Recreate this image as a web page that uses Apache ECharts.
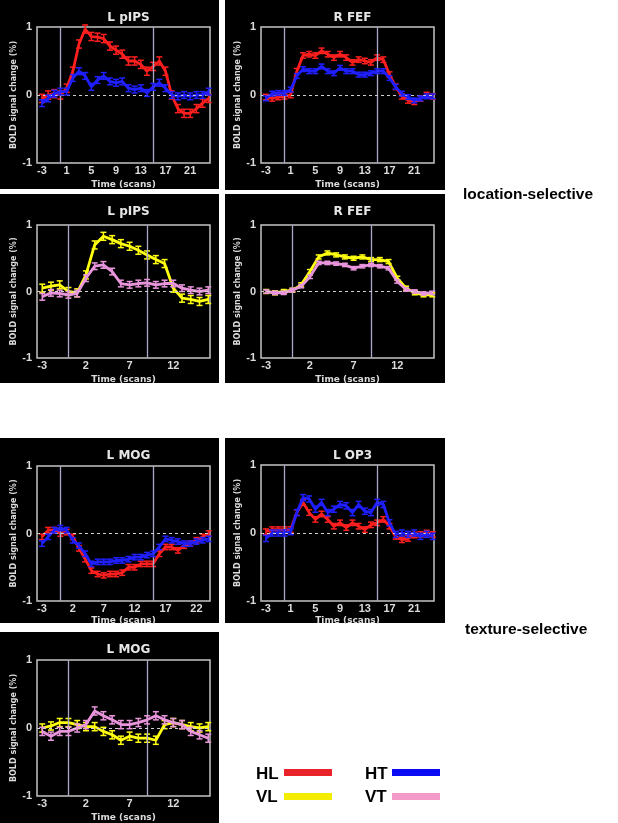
<!DOCTYPE html>
<html><head><meta charset="utf-8">
<script src="https://cdn.jsdelivr.net/npm/echarts@6/dist/echarts.min.js"></script>
<style>html,body{margin:0;padding:0;background:#fff}#c{width:618px;height:823px}</style>
</head><body><div id="c"></div>
<script>
// ---------- data ----------
const scansLong = [-3,-2,-1,0,1,2,3,4,5,6,7,8,9,10,11,12,13,14,15,16,17,18,19,20,21,22,23,24];
const scansShort = [-3,-2,-1,0,1,2,3,4,5,6,7,8,9,10,11,12,13,14,15,16];
const ticksLong = [-3,1,5,9,13,17,21];
const ticksShort = [-3,2,7,12];
const ticksMOG = [-3,2,7,12,17,22];
const yTicks = [-1,0,1];
const blockLong = [0,15];
const blockShort = [0,9];

// Panel 1: L pIPS (location-selective, horizontal)
const pIPS_HL = [-0.05,0.0,0.02,0.0,0.1,0.35,0.75,0.97,0.86,0.85,0.83,0.72,0.66,0.6,0.5,0.5,0.45,0.35,0.42,0.5,0.35,0.0,-0.2,-0.27,-0.27,-0.2,-0.12,-0.05];
const pIPS_HT = [-0.12,-0.05,0.02,0.05,0.05,0.25,0.35,0.28,0.12,0.22,0.28,0.2,0.18,0.2,0.1,0.08,0.1,0.03,0.12,0.18,0.1,0.0,-0.02,0.0,-0.02,0.0,0.0,0.05];
// Panel 2: R FEF
const FEF_HL = [-0.03,-0.05,-0.03,-0.02,0.0,0.35,0.58,0.6,0.58,0.65,0.6,0.55,0.6,0.55,0.48,0.52,0.5,0.48,0.55,0.52,0.3,0.12,-0.02,-0.08,-0.1,-0.05,0.0,-0.02];
const FEF_HT = [-0.05,0.02,0.03,0.03,0.08,0.28,0.38,0.35,0.35,0.42,0.35,0.32,0.4,0.35,0.35,0.3,0.3,0.32,0.35,0.35,0.25,0.12,0.02,-0.03,-0.08,-0.05,-0.02,-0.02];
// Panel 3: L pIPS (vertical)
const pIPS_VL = [0.05,0.08,0.1,0.0,-0.02,0.25,0.7,0.83,0.78,0.72,0.68,0.62,0.55,0.48,0.42,0.05,-0.1,-0.12,-0.15,-0.12];
const pIPS_VT = [-0.08,-0.02,-0.03,-0.05,-0.03,0.2,0.38,0.4,0.3,0.12,0.1,0.12,0.13,0.1,0.12,0.12,0.05,0.02,0.0,0.02];
// Panel 4: R FEF (vertical)
const FEF_VL = [0.0,-0.02,0.0,0.02,0.1,0.3,0.52,0.58,0.55,0.52,0.5,0.52,0.48,0.48,0.45,0.2,0.05,-0.02,-0.05,-0.05];
const FEF_VT = [0.0,-0.02,-0.02,0.02,0.08,0.22,0.43,0.43,0.42,0.4,0.35,0.38,0.4,0.38,0.35,0.15,0.03,0.0,-0.03,-0.02];
// Panel 5: L MOG (texture-selective, horizontal)
const MOG_HL = [-0.05,0.05,0.05,0.0,0.02,-0.05,-0.22,-0.38,-0.55,-0.6,-0.62,-0.6,-0.6,-0.58,-0.5,-0.5,-0.45,-0.45,-0.45,-0.3,-0.2,-0.2,-0.25,-0.18,-0.15,-0.1,-0.05,0.0];
const MOG_HT = [-0.15,-0.05,0.05,0.08,0.05,-0.1,-0.18,-0.3,-0.45,-0.42,-0.42,-0.42,-0.4,-0.4,-0.38,-0.35,-0.35,-0.32,-0.3,-0.2,-0.08,-0.1,-0.12,-0.15,-0.15,-0.12,-0.1,-0.08];
// Panel 6: L OP3
const OP3_HL = [0.02,0.05,0.05,0.05,0.05,0.3,0.45,0.3,0.2,0.28,0.2,0.1,0.15,0.08,0.15,0.1,0.05,0.12,0.15,0.2,0.1,-0.05,-0.1,-0.08,-0.03,-0.02,0.0,-0.02];
const OP3_HT = [-0.08,0.0,0.0,0.0,0.02,0.3,0.52,0.5,0.35,0.45,0.3,0.35,0.42,0.4,0.3,0.42,0.32,0.3,0.45,0.42,0.15,-0.02,0.0,-0.02,0.0,-0.05,-0.02,-0.05];
// Panel 7: L MOG (vertical)
const MOG_VL = [0.0,0.03,0.08,0.08,0.05,0.02,0.02,-0.05,-0.1,-0.18,-0.12,-0.15,-0.15,-0.18,0.05,0.08,0.05,0.02,0.0,0.02];
const MOG_VT = [-0.05,-0.12,-0.05,-0.05,0.0,0.05,0.25,0.18,0.12,0.05,0.05,0.08,0.12,0.18,0.12,0.08,0.05,-0.05,-0.1,-0.15];
// estimated error-bar half-lengths (SEM) per series
const err = {pIPS_HL:0.06,pIPS_HT:0.05,FEF_HL:0.04,FEF_HT:0.035,pIPS_VL:0.06,pIPS_VT:0.05,FEF_VL:0.03,FEF_VT:0.025,MOG_HL:0.04,MOG_HT:0.04,OP3_HL:0.04,OP3_HT:0.045,MOG_VL:0.06,MOG_VT:0.06};

const titles = ['L pIPS','R FEF','L pIPS','R FEF','L MOG','L OP3','L MOG'];
const legendNames = ['HL','HT','VL','VT'];

// ---------- styles / layout ----------
const COL = {HL:'#ff1f1f', HT:'#1f1fff', VL:'#ffff10', VT:'#e995dc'};
const LEGCOL = {HL:'#e8232a', HT:'#0a0af5', VL:'#f5ed00', VT:'#f39ac8'};
const FONT = 'DejaVu Sans';

const panels = [
  {bg:[0,0,219,189], grid:[37,27,173,136], gap:17, xs:scansLong, ticks:ticksLong, range:[-3.8,24.2], block:blockLong,
   series:[['HL',pIPS_HL,err.pIPS_HL],['HT',pIPS_HT,err.pIPS_HT]]},
  {bg:[225,0,220,190], grid:[261,27,173,136], gap:17, xs:scansLong, ticks:ticksLong, range:[-3.8,24.2], block:blockLong,
   series:[['HL',FEF_HL,err.FEF_HL],['HT',FEF_HT,err.FEF_HT]]},
  {bg:[0,194,219,189], grid:[37,225,173,133], gap:17, xs:scansShort, ticks:ticksShort, range:[-3.6,16.2], block:blockShort,
   series:[['VL',pIPS_VL,err.pIPS_VL],['VT',pIPS_VT,err.pIPS_VT]]},
  {bg:[225,194,220,189], grid:[261,225,173,133], gap:17, xs:scansShort, ticks:ticksShort, range:[-3.6,16.2], block:blockShort,
   series:[['VL',FEF_VL,err.FEF_VL],['VT',FEF_VT,err.FEF_VT]]},
  {bg:[0,438,219,185], grid:[37,466,173,135], gap:15, xs:scansLong, ticks:ticksMOG, range:[-3.8,24.2], block:blockLong,
   series:[['HL',MOG_HL,err.MOG_HL],['HT',MOG_HT,err.MOG_HT]]},
  {bg:[225,438,220,185], grid:[261,465,173,136], gap:15, xs:scansLong, ticks:ticksLong, range:[-3.8,24.2], block:blockLong,
   series:[['HL',OP3_HL,err.OP3_HL],['HT',OP3_HT,err.OP3_HT]]},
  {bg:[0,632,219,191], grid:[37,660,173,136], gap:17, xs:scansShort, ticks:ticksShort, range:[-3.6,16.2], block:blockShort,
   series:[['VL',MOG_VL,err.MOG_VL],['VT',MOG_VT,err.MOG_VT]]}
];

function errRender(params, api){
  const x = api.value(0), y = api.value(1), e = api.value(2);
  const hi = api.coord([x, y+e]), lo = api.coord([x, y-e]);
  const w = 3;
  const style = {stroke: api.visual('color'), lineWidth: 1.5};
  return {type:'group', children:[
    {type:'line', shape:{x1:hi[0],y1:hi[1],x2:lo[0],y2:lo[1]}, style:style},
    {type:'line', shape:{x1:hi[0]-w,y1:hi[1],x2:hi[0]+w,y2:hi[1]}, style:style},
    {type:'line', shape:{x1:lo[0]-w,y1:lo[1],x2:lo[0]+w,y2:lo[1]}, style:style}
  ]};
}

const option = {backgroundColor:'#ffffff', animation:false, title:[], grid:[], xAxis:[], yAxis:[], series:[], graphic:[]};
const labelColor = '#dcdcdc';

panels.forEach((p,i)=>{
  option.graphic.push({type:'rect', z:-10, shape:{x:p.bg[0],y:p.bg[1],width:p.bg[2],height:p.bg[3]}, style:{fill:'#000000'}});
  option.title.push({text:titles[i], left:p.grid[0]+p.grid[2]/2, top:p.bg[1]+7, textAlign:'center',
    textStyle:{color:'#e6e6e6', fontFamily:FONT, fontWeight:'bold', fontSize:12}});
  option.grid.push({left:p.grid[0], top:p.grid[1], width:p.grid[2], height:p.grid[3], show:true,
    borderColor:'#c4c4c4', borderWidth:1.5, backgroundColor:'transparent'});
  option.xAxis.push({type:'value', gridIndex:i, min:p.range[0], max:p.range[1],
    name:'Time (scans)', nameLocation:'middle', nameGap:p.gap,
    nameTextStyle:{color:labelColor, fontFamily:FONT, fontWeight:'bold', fontSize:9},
    axisLine:{show:false}, splitLine:{show:false},
    axisTick:{show:false, customValues:p.ticks},
    axisLabel:{customValues:p.ticks, color:labelColor, fontFamily:'Liberation Sans', fontWeight:'bold', fontSize:11, margin:2}});
  option.yAxis.push({type:'value', gridIndex:i, min:-1, max:1, interval:1,
    name:'BOLD signal change (%)', nameLocation:'middle', nameGap:19,
    nameTextStyle:{color:labelColor, fontFamily:FONT, fontWeight:'bold', fontSize:8},
    axisLine:{show:false}, splitLine:{show:false}, axisTick:{show:false},
    axisLabel:{color:labelColor, fontFamily:'Liberation Sans', fontWeight:'bold', fontSize:11, margin:5}});
  // reference lines (stimulus block and baseline)
  option.series.push({type:'line', xAxisIndex:i, yAxisIndex:i, data:[], z:1, silent:true,
    markLine:{silent:true, symbol:'none', label:{show:false}, animation:false,
      data:[
        {xAxis:p.block[0], lineStyle:{color:'#a8a8c8', width:1.3, type:'solid'}},
        {xAxis:p.block[1], lineStyle:{color:'#a8a8c8', width:1.3, type:'solid'}},
        {yAxis:0, lineStyle:{color:'#d0d0d0', width:1, type:[3,3]}}
      ]}});
  p.series.forEach((s,k)=>{
    const name=s[0], vals=s[1], e=s[2];
    const pts = p.xs.map((x,j)=>[x, vals[j]]);
    option.series.push({type:'line', name:name, xAxisIndex:i, yAxisIndex:i, data:pts, showSymbol:false,
      z:2+k*2, lineStyle:{color:COL[name], width:2.8}, itemStyle:{color:COL[name]}});
    option.series.push({type:'custom', name:name+'_err', xAxisIndex:i, yAxisIndex:i, z:3+k*2,
      renderItem:errRender, encode:{x:0,y:1}, itemStyle:{color:COL[name]},
      data:p.xs.map((x,j)=>[x, vals[j], e])});
  });
});

// side labels
option.graphic.push({type:'text', left:463, top:187, style:{text:'location-selective', fill:'#000', font:'bold 15.5px "Liberation Sans"'}});
option.graphic.push({type:'text', left:465, top:622, style:{text:'texture-selective', fill:'#000', font:'bold 15.5px "Liberation Sans"'}});
// legend
const legPos = {HL:[256,767,284,769], HT:[365,767,392,769], VL:[256,790,284,793], VT:[365,790,392,793]};
legendNames.forEach(n=>{
  const q = legPos[n];
  option.graphic.push({type:'text', left:q[0], top:q[1]-1, style:{text:n, fill:'#000', font:'bold 17px "Liberation Sans"'}});
  option.graphic.push({type:'rect', shape:{x:q[2], y:q[3], width:48, height:7}, style:{fill:LEGCOL[n]}});
});

const chart = echarts.init(document.getElementById('c'), null, {renderer:'canvas', width:618, height:823});
chart.setOption(option);
</script></body></html>
